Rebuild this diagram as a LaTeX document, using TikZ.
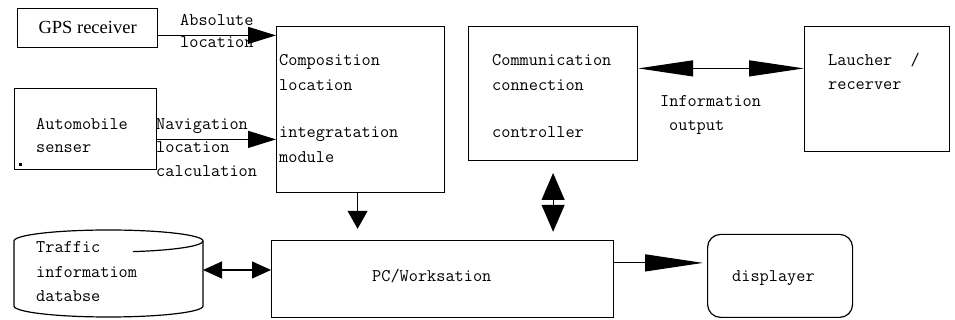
\documentclass[tikz,border=0pt]{standalone}
\usepackage{fontspec}
\setmainfont{Liberation Serif}
\usetikzlibrary{arrows.meta}
\begin{document}
\begin{tikzpicture}[x=1pt,y=1pt,
  boxst/.style={draw,line width=1.2pt,anchor=south west,inner sep=0pt},
  lbl/.style={anchor=base west,inner sep=0pt,font=\ttfamily\fontsize{17.8}{22}\selectfont},
  conn/.style={line width=1.2pt},
  arrA/.style={conn,-{Triangle[length=28pt,width=17pt]}},
  arrB/.style={conn,-{Triangle[length=18pt,width=20pt]}},
  arrC/.style={conn,{Triangle[length=27pt,width=23pt]}-{Triangle[length=27pt,width=23pt]}},
  arrD/.style={conn,{Triangle[length=55pt,width=16pt]}-{Triangle[length=55pt,width=16pt]}},
  arrE/.style={conn,{Triangle[length=19pt,width=17pt]}-{Triangle[length=19pt,width=17pt]}},
  arrF/.style={conn,-{Triangle[length=58pt,width=17pt]}}
]
\useasboundingbox (0,0) rectangle (955,320);

% boxes
\node[boxst,minimum width=140pt,minimum height=39pt,font=\fontsize{18.5}{22}\selectfont] (gps) at (17,272) {GPS receiver};
\node[boxst,minimum width=142pt,minimum height=81pt] (auto) at (14,150) {};
\node[boxst,minimum width=168pt,minimum height=166pt] (comp) at (276,127) {};
\node[boxst,minimum width=169pt,minimum height=134pt] (comm) at (468,159) {};
\node[boxst,minimum width=145pt,minimum height=125pt] (lau) at (804,168) {};
\node[boxst,minimum width=342pt,minimum height=77pt] (pc) at (271,2) {};
\node[boxst,rounded corners=13pt,minimum width=145pt,minimum height=83pt] (disp) at (707,2) {};

% small dot in automobile box
\fill (19,154) rectangle (22,157);

% database cylinder
\draw[line width=1.2pt] (14,79) arc[start angle=180,end angle=0,x radius=94.5,y radius=11]
  -- (203,14) arc[start angle=0,end angle=-180,x radius=94.5,y radius=11] -- cycle;
\draw[line width=1.2pt] (203,79) arc[start angle=0,end angle=-75,x radius=94.5,y radius=11];
\coordinate (dbR) at (203,50);

% texts
\node[lbl] (t1) at (180,294) {Absolute};
\node[lbl] (t2) at (180,272) {location};
\node[lbl] (t3) at (156,190) {Navigation};
\node[lbl] (t4) at (156,167) {location};
\node[lbl] (t5) at (156,143) {calculation};
\node[lbl] (t6) at (36,190) {Automobile};
\node[lbl] (t7) at (36,167) {senser};
\node[lbl] (t8) at (279,254) {Composition};
\node[lbl] (t9) at (279,229) {location};
\node[lbl] (t10) at (279,182) {integratation};
\node[lbl] (t11) at (279,157) {module};
\node[lbl] (t12) at (492,254) {Communication};
\node[lbl] (t13) at (492,229) {connection};
\node[lbl] (t14) at (492,182) {controller};
\node[lbl] (t15) at (828,254) {Laucher\ \ /};
\node[lbl] (t16) at (828,230) {recerver};
\node[lbl] (t17) at (660,213) {Information};
\node[lbl] (t18) at (669,189) {output};
\node[lbl] (t19) at (36,67) {Traffic};
\node[lbl] (t20) at (36,42) {informatiom};
\node[lbl] (t21) at (36,18) {databse};
\node[lbl] (t22) at (372,38) {PC/Worksation};
\node[lbl] (t23) at (732,38) {displayer};

% connectors
\coordinate (g1) at ([yshift=-7.5pt]gps.east);
\draw[arrA] (g1) -- (g1 -| comp.west);
\coordinate (a1) at ([yshift=-10.5pt]auto.east);
\draw[arrA] (a1) -- (a1 -| comp.west);
\coordinate (c1) at ([xshift=-3pt]comp.south);
\draw[arrB,shorten >=11pt] (c1) -- (c1 |- pc.north);
\draw[arrC,shorten <=12pt,shorten >=8pt] (comm.south) -- (comm.south |- pc.north);
\coordinate (m1) at ([yshift=25pt]comm.east);
\draw[arrD] (m1) -- (m1 -| lau.west);
\draw[arrE] (dbR) -- (dbR -| pc.west);
\coordinate (p1) at ([yshift=16pt]pc.east);
\draw[arrF,shorten >=4pt] (p1) -- (p1 -| disp.west);
\end{tikzpicture}
\end{document}
